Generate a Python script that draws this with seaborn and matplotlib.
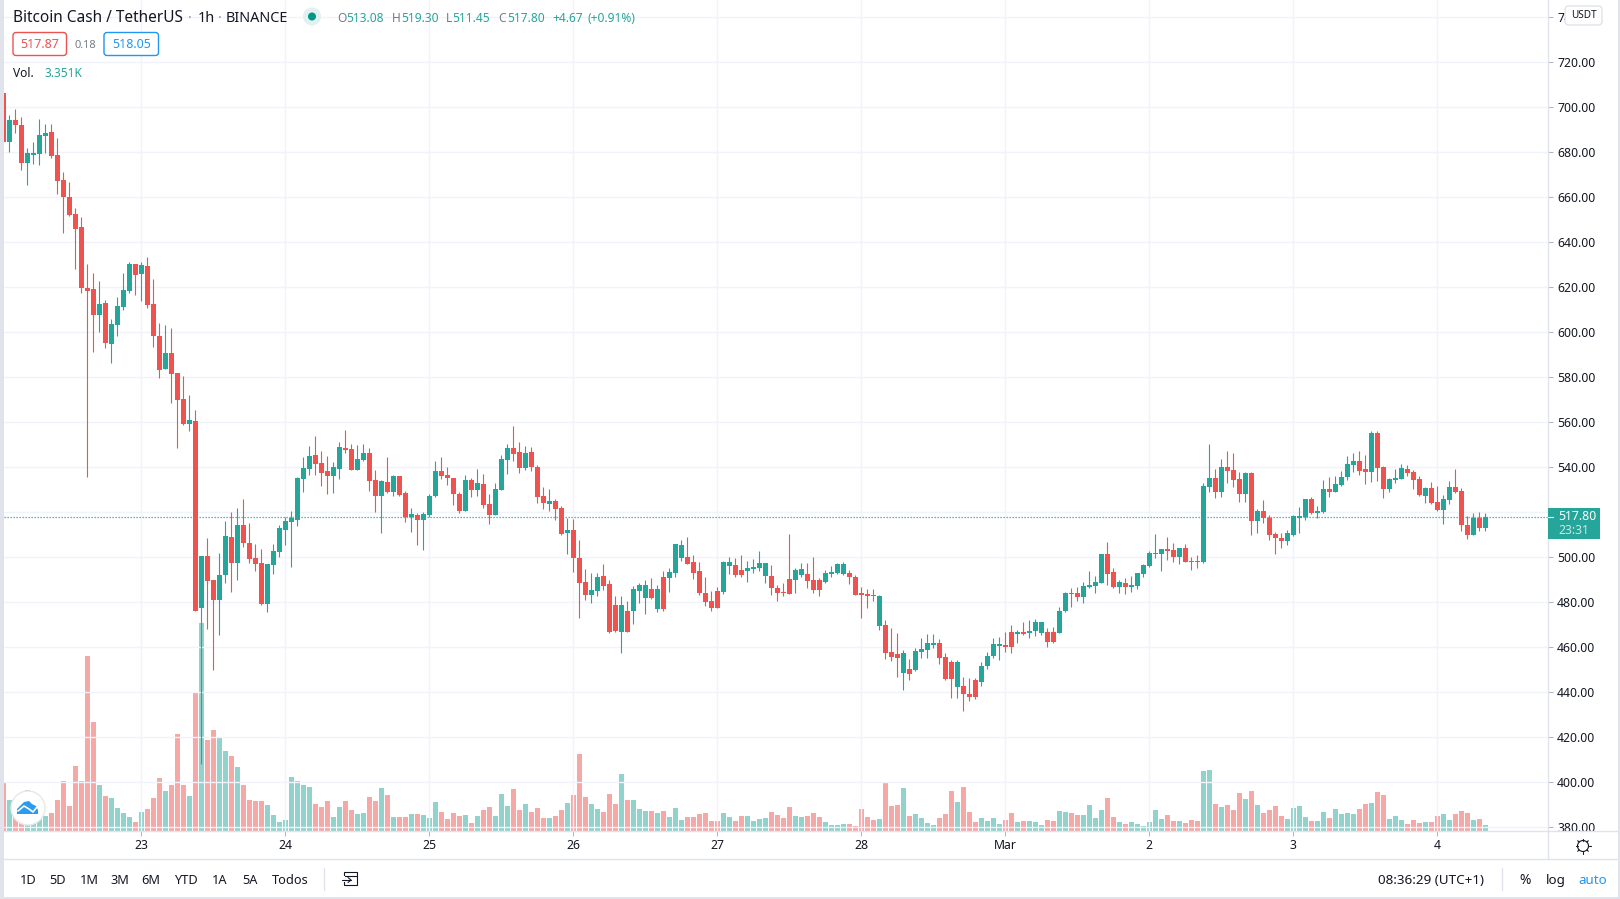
import numpy as np
import pandas as pd
import seaborn as sns
import matplotlib.pyplot as plt
from matplotlib.patches import Rectangle, Circle, FancyBboxPatch, Polygon

# candle colour, r = falling, g = rising
directions = list(
    "rg" "rr" "gggg" "rrrrrrrr" "g" "r" "gggg" "r" "g" "rrr" "g" "rrr" "g" "r" "g" "rr" "gg" "r" "g"
    "rrrr" "gggggggg" "rrr" "gg" "rr" "gg" "rr" "g" "r" "g" "rr" "g" "r" "ggg" "rr"
    "rr" "g" "r" "g" "rr" "ggg" "rr" "g" "rrr" "g" "rr" "g" "rrr" "gg" "rrr" "g" "r" "ggg" "r" "g" "r"
    "ggg" "rrrrrr" "gg" "r"
    "r" "gggg" "rrrr" "gg" "rrr" "gggg" "rrrrr" "g" "rrr" "g" "r" "gggg" "rrr" "g" "rrr" "gggg" "rr" "g" "r"
    "ggg" "rr" "gg" "rr" "gggg" "rr" "g" "r" "gggggg" "rr" "g" "rrr" "gg" "r" "g" "rrr" "g" "r" "g"
    "rrrr" "gggg" "r" "gg" "r" "gggg" "rr" "g" "rr" "ggg" "rrr" "g" "rr" "gg" "rrr" "g" "r" "g"
)

body_top = [
    706.2, 693.9, 693.9, 691.7, 679.3, 679.3, 687.3, 688.1, 688.6, 678.4,
    667.3, 659.7, 652.1, 646.4, 619.3, 618.8, 612.1, 612.6, 603.3, 611.3,
    618.4, 629.9, 629.9, 629.5, 629.0, 612.1, 597.9, 590.4, 590.4, 581.5,
    570.0, 560.6, 560.1, 500.1, 500.1, 489.5, 491.7, 509.0, 508.6, 513.9,
    513.9, 505.9, 499.3, 497.0, 496.6, 502.4, 512.6, 515.7, 517.0, 534.8,
    539.3, 544.6, 545.0, 541.5, 537.9, 539.7, 548.6, 548.1, 547.7, 543.3,
    545.9, 545.9, 533.9, 533.5, 533.0, 535.7, 535.7, 528.1, 518.8, 518.4,
    518.8, 526.8, 537.9, 537.9, 536.1, 534.8, 527.7, 533.9, 533.9, 532.6,
    532.1, 523.3, 529.9, 543.3, 548.1, 548.1, 546.4, 545.9, 546.4, 539.7,
    526.8, 524.6, 524.6, 521.5, 511.7, 511.7, 499.3, 488.6, 485.0, 490.8,
    491.3, 487.7, 478.4, 478.4, 475.7, 485.5, 487.3, 487.3, 485.5, 485.5,
    490.8, 493.0, 505.5, 505.0, 499.7, 497.5, 493.5, 483.7, 480.1, 484.6,
    497.5, 497.5, 496.1, 493.9, 494.8, 495.3, 497.0, 497.0, 491.3, 485.9,
    484.1, 489.9, 493.9, 494.4, 492.1, 489.5, 489.5, 492.6, 493.0, 496.6,
    496.6, 492.6, 490.8, 483.7, 483.3, 482.8, 482.4, 469.5, 457.5, 456.6,
    457.0, 449.9, 457.9, 458.8, 461.5, 461.5, 461.5, 455.3, 453.0, 453.0,
    442.4, 438.8, 445.0, 451.3, 455.7, 461.0, 461.0, 460.6, 466.4, 466.4,
    466.4, 466.8, 470.8, 470.8, 466.4, 466.4, 475.7, 483.7, 483.7, 483.7,
    486.8, 487.3, 488.6, 501.0, 501.0, 493.0, 488.6, 488.1, 487.3, 492.6,
    496.1, 501.5, 501.5, 503.3, 503.3, 502.8, 503.7, 503.7, 497.9, 497.9,
    531.3, 534.8, 534.8, 539.7, 539.7, 538.4, 534.4, 537.0, 537.0, 520.1,
    520.1, 517.0, 509.9, 508.1, 510.4, 517.9, 517.9, 525.5, 525.5, 520.1,
    529.9, 529.9, 532.1, 535.3, 541.0, 542.4, 542.4, 538.8, 554.8, 554.8,
    539.7, 534.4, 534.8, 539.3, 538.8, 537.5, 534.4, 530.4, 530.4, 524.1,
    525.5, 530.8, 530.8, 529.0, 513.9, 517.0, 517.0, 517.8,
]
body_bottom = [
    684.3, 684.3, 691.7, 675.0, 675.0, 678.4, 678.8, 686.8, 677.9, 666.8,
    659.7, 651.7, 645.5, 619.3, 617.9, 607.3, 607.3, 594.8, 594.4, 602.8,
    610.8, 617.9, 625.0, 625.5, 611.7, 597.9, 582.8, 583.3, 581.0, 569.5,
    558.8, 558.8, 475.7, 477.0, 489.0, 480.6, 480.6, 491.7, 497.0, 497.0,
    505.9, 498.8, 496.6, 478.8, 478.8, 496.1, 501.9, 511.7, 515.3, 516.1,
    534.4, 538.8, 541.0, 537.0, 535.7, 535.7, 538.8, 547.3, 538.4, 538.4,
    542.8, 533.5, 526.8, 526.8, 528.6, 528.6, 527.3, 517.6, 517.5, 516.1,
    516.1, 518.4, 526.8, 535.7, 534.8, 527.7, 520.1, 520.1, 529.5, 529.5,
    522.8, 518.4, 518.4, 529.5, 542.8, 545.5, 539.3, 539.3, 539.7, 526.4,
    523.7, 523.3, 521.0, 509.9, 510.4, 499.3, 488.1, 482.8, 482.8, 484.6,
    486.8, 466.4, 466.8, 466.4, 466.4, 475.7, 484.6, 481.5, 481.5, 476.6,
    476.6, 490.4, 492.6, 499.3, 496.6, 492.6, 483.7, 479.7, 477.0, 477.0,
    484.1, 495.7, 491.7, 491.7, 493.5, 494.4, 494.8, 491.3, 485.9, 483.7,
    483.7, 483.3, 489.5, 491.7, 489.0, 485.0, 485.0, 488.6, 492.1, 492.6,
    492.1, 490.8, 482.8, 482.8, 482.4, 482.4, 469.0, 457.0, 455.3, 454.8,
    448.1, 447.7, 449.5, 457.5, 458.4, 460.6, 454.8, 445.5, 445.5, 441.9,
    438.8, 437.5, 437.5, 444.1, 451.3, 455.7, 460.1, 459.7, 459.7, 465.5,
    465.5, 465.9, 466.8, 465.9, 461.9, 461.9, 465.9, 475.7, 483.3, 481.9,
    481.9, 486.4, 486.8, 488.1, 492.1, 486.4, 486.4, 486.4, 486.4, 486.8,
    492.1, 495.7, 501.0, 501.0, 502.4, 499.7, 499.7, 497.5, 497.5, 497.5,
    497.5, 530.8, 528.6, 528.6, 537.9, 533.9, 527.7, 527.7, 515.7, 515.7,
    517.0, 509.5, 508.1, 506.8, 506.8, 509.5, 517.0, 517.5, 519.3, 519.3,
    519.7, 528.6, 528.6, 531.7, 535.3, 540.6, 537.9, 537.5, 537.5, 539.3,
    529.9, 529.9, 533.9, 534.4, 537.0, 533.9, 527.3, 526.8, 523.7, 520.6,
    520.6, 525.0, 528.6, 513.9, 509.5, 509.5, 512.6, 512.6,
]
wick_high = [
    706.2, 696.1, 698.8, 695.3, 681.5, 684.1, 694.4, 692.1, 692.1, 685.9,
    670.8, 666.4, 654.8, 650.8, 629.9, 625.9, 622.4, 613.9, 605.5, 615.3,
    625.9, 630.8, 629.9, 630.8, 633.0, 623.3, 603.7, 602.8, 601.5, 581.5,
    580.1, 571.7, 565.0, 500.1, 508.1, 489.5, 501.5, 515.7, 519.7, 521.5,
    525.5, 514.8, 505.5, 503.3, 496.6, 505.5, 513.9, 517.5, 520.1, 535.3,
    544.1, 549.0, 553.5, 546.8, 544.6, 541.9, 550.8, 556.1, 549.9, 549.5,
    549.9, 548.1, 538.4, 533.9, 544.1, 536.1, 535.7, 529.0, 521.5, 519.3,
    519.7, 527.7, 542.4, 544.1, 539.7, 534.8, 528.6, 536.1, 534.8, 538.8,
    536.6, 527.7, 532.6, 545.0, 549.9, 557.9, 550.8, 549.0, 548.6, 540.6,
    530.8, 529.9, 525.5, 522.4, 517.0, 516.6, 507.3, 494.4, 492.6, 492.6,
    496.6, 489.5, 482.4, 482.4, 480.1, 486.8, 488.1, 489.5, 490.4, 487.3,
    493.5, 494.8, 505.5, 507.3, 508.6, 500.6, 497.5, 490.8, 484.6, 486.4,
    497.9, 499.7, 499.3, 500.6, 497.9, 498.8, 502.4, 497.0, 496.1, 487.3,
    488.1, 509.9, 494.8, 497.0, 497.0, 499.7, 490.4, 493.9, 495.7, 497.0,
    497.5, 493.9, 491.7, 486.4, 485.5, 485.5, 482.8, 471.7, 468.1, 465.9,
    458.4, 454.4, 459.3, 463.7, 465.5, 465.5, 463.3, 457.0, 453.9, 453.9,
    446.4, 445.9, 445.9, 453.0, 457.5, 463.7, 464.1, 466.4, 469.5, 467.3,
    470.8, 471.7, 472.1, 470.8, 468.1, 468.6, 477.5, 484.1, 485.9, 486.4,
    488.6, 493.5, 491.3, 501.0, 506.4, 494.8, 489.5, 490.4, 491.3, 492.6,
    496.6, 502.4, 509.9, 503.3, 508.6, 505.9, 503.7, 505.5, 499.7, 500.6,
    532.6, 549.9, 538.8, 543.3, 546.8, 545.9, 537.5, 537.5, 537.5, 521.0,
    525.0, 518.4, 510.8, 510.4, 511.7, 518.4, 521.9, 525.5, 526.4, 522.4,
    533.9, 535.3, 535.7, 537.9, 544.6, 545.9, 546.8, 545.0, 555.7, 555.7,
    540.1, 534.8, 538.8, 541.0, 540.6, 538.4, 535.7, 530.8, 533.0, 531.3,
    527.3, 533.5, 538.8, 530.4, 517.9, 519.3, 519.7, 519.3,
]
wick_low = [
    684.3, 679.9, 688.1, 671.9, 665.0, 674.4, 673.9, 679.3, 677.0, 661.0,
    643.7, 651.3, 627.7, 617.0, 535.3, 590.8, 599.7, 592.6, 585.9, 597.9,
    609.5, 617.0, 616.1, 613.5, 610.4, 593.0, 579.3, 583.3, 568.1, 548.1,
    558.4, 555.7, 475.7, 407.7, 467.7, 449.5, 465.0, 488.1, 484.1, 489.5,
    504.1, 497.0, 493.5, 478.4, 475.3, 492.1, 499.7, 505.0, 495.3, 513.5,
    528.6, 536.1, 536.1, 531.3, 527.7, 528.1, 534.4, 545.9, 538.4, 538.4,
    542.4, 529.0, 519.7, 510.4, 528.1, 526.8, 526.8, 515.3, 510.8, 505.0,
    502.8, 517.5, 526.4, 534.4, 531.7, 522.8, 519.3, 520.1, 526.4, 526.8,
    521.5, 514.4, 518.4, 529.5, 536.6, 542.4, 537.0, 538.4, 537.9, 523.7,
    521.0, 520.1, 516.1, 509.5, 501.0, 493.0, 472.6, 480.6, 479.3, 482.4,
    485.0, 465.9, 466.4, 457.0, 466.4, 469.9, 479.3, 474.4, 481.0, 475.3,
    475.7, 484.1, 490.8, 497.9, 496.6, 489.9, 482.8, 477.9, 475.7, 477.0,
    483.3, 492.1, 490.8, 490.8, 488.6, 492.6, 493.5, 488.1, 482.8, 480.1,
    482.4, 483.3, 483.7, 490.8, 485.9, 483.7, 482.4, 488.1, 490.8, 492.1,
    491.7, 487.7, 482.8, 472.6, 477.0, 480.1, 467.3, 454.4, 453.5, 446.4,
    440.6, 445.0, 449.0, 454.8, 454.8, 459.3, 452.1, 445.0, 437.0, 437.0,
    431.3, 435.7, 436.6, 442.4, 449.9, 454.8, 453.9, 457.5, 457.0, 461.5,
    465.0, 463.7, 464.6, 465.0, 459.7, 461.5, 465.9, 475.3, 477.5, 480.1,
    479.3, 485.9, 483.7, 488.1, 487.3, 485.9, 483.7, 483.3, 484.1, 485.5,
    490.8, 495.3, 499.3, 493.5, 498.4, 497.5, 496.6, 497.5, 493.9, 494.8,
    497.0, 528.6, 525.9, 526.4, 532.6, 530.8, 524.1, 524.1, 509.5, 510.4,
    514.8, 507.3, 501.0, 503.7, 505.0, 509.0, 510.4, 516.4, 518.8, 517.0,
    519.3, 526.4, 528.6, 531.3, 533.9, 537.5, 536.1, 532.1, 533.0, 533.5,
    525.9, 528.6, 532.6, 534.4, 535.7, 529.9, 526.8, 523.7, 523.3, 520.1,
    514.4, 523.3, 528.1, 511.3, 507.7, 509.5, 511.3, 511.3,
]
volume_k = [
    26.8, 17.3, 11.7, 11.2, 22.9, 10.1, 8.9, 8.4, 10.1, 17.3,
    27.9, 14.0, 36.3, 27.9, 97.7, 60.9, 25.7, 19.5, 18.4, 12.8,
    10.1, 7.8, 5.0, 10.6, 12.3, 18.4, 29.6, 22.3, 25.7, 54.2,
    25.7, 19.5, 77.6, 116.2, 50.8, 56.4, 51.9, 44.7, 41.9, 35.7,
    25.7, 17.3, 16.8, 16.8, 14.5, 8.9, 5.0, 6.1, 30.2, 27.9,
    25.7, 24.6, 15.1, 13.4, 16.8, 7.8, 13.4, 16.8, 11.7, 9.5,
    10.1, 19.0, 16.8, 24.0, 20.1, 7.8, 7.8,
    7.8, 9.5, 9.5, 8.9, 7.3, 16.2, 10.6, 6.7, 10.1, 8.4,
    8.9, 4.5, 8.4, 11.7, 13.4, 8.4, 20.7, 14.0, 23.5, 11.7,
    15.1, 10.6, 12.8, 7.3, 7.3, 8.4, 11.7, 15.6, 20.1, 43.0,
    19.0, 15.1, 12.3, 10.6, 20.7, 15.1, 31.8, 17.3, 17.3, 12.3,
    11.2, 11.2, 10.1, 11.2, 7.8, 12.8, 6.1, 7.8, 7.8, 9.5,
    10.1, 5.6, 5.6, 10.1, 7.8, 5.6, 8.4, 8.4, 5.6, 6.7,
    7.3, 10.6, 8.9, 7.3, 13.4, 8.4,
    7.8, 8.4, 10.1, 7.8, 5.0, 3.4, 3.4, 3.9, 3.9, 2.8,
    12.3, 7.8, 6.1, 6.7, 27.4, 14.0, 14.5, 24.0, 8.4, 9.5,
    7.3, 4.5, 3.4, 7.3, 9.5, 22.3, 16.2, 24.6, 10.6, 5.0,
    7.3, 5.6, 7.3, 3.9, 6.1, 10.1, 5.0, 5.6, 5.6, 5.0,
    3.4, 6.1, 5.6, 11.2, 10.6, 10.1, 8.9, 8.9, 14.5, 7.3,
    11.7, 18.4, 7.8, 5.0, 3.9, 5.0, 3.9, 2.8, 5.0, 11.7,
    6.7, 8.9, 5.6, 5.6, 4.5, 6.1, 5.6,
    33.5, 34.1, 15.1, 13.4, 14.5, 11.7, 21.2, 17.9, 22.3, 14.5,
    10.1, 11.7, 14.0, 8.4, 6.7, 12.8, 14.0, 7.8, 5.6, 5.6,
    10.6, 7.3, 12.3, 9.5, 10.1, 9.5, 12.3, 15.1, 15.6, 21.8,
    20.1, 6.7, 8.4, 6.1, 3.9, 6.1, 4.5, 5.0, 5.0, 8.4,
    9.5, 6.1, 9.5, 11.2, 10.1, 6.1, 6.7, 3.351,
]
price_ticks = list(range(380, 741, 20))
day_labels = ["23", "24", "25", "26", "27", "28", "Mar", "2", "3", "4"]
day_starts = [23, 47, 71, 95, 119, 143, 167, 191, 215, 239]
last_close = 517.80

RED = "#ef5350"
GREEN = "#26a69a"
INK = "#131722"
LINE = "#e0e3eb"
W, H = 1620, 899

sns.set_theme(style="white")
plt.rcParams["font.family"] = ["Noto Sans", "DejaVu Sans"]

df = pd.DataFrame({
    "idx": np.arange(len(body_top)),
    "top": body_top,
    "bottom": body_bottom,
    "high": wick_high,
    "low": wick_low,
    "vol": volume_k,
    "dir": directions,
})
df["colour"] = df["dir"].map({"r": RED, "g": GREEN})

fig = plt.figure(figsize=(W / 100, H / 100), dpi=100, facecolor="white")
rect = [4 / W, (H - 831) / H, (1548 - 4) / W, 831 / H]
xlims = (0.117, 257.45)

# volume first, candles sit on top of it
ax_vol = fig.add_axes(rect, zorder=1)
sns.barplot(data=df, x="idx", y="vol", hue="dir", palette={"r": RED, "g": GREEN},
            native_scale=True, dodge=False, width=0.92, alpha=0.5, saturation=1,
            linewidth=0, legend=False, ax=ax_vol)
ax_vol.set_xlim(xlims)
ax_vol.set_ylim(0, 464.1)
ax_vol.axis("off")

ax = fig.add_axes(rect, zorder=2, facecolor="none")
ax.grid(True, color="#f0f3fa", lw=1.0)
ax.set_axisbelow(True)
ax.axhline(last_close, color=GREEN, lw=0.9, ls=(0, (1, 1.4)), zorder=1)
ax.vlines(df["idx"], df["low"], df["high"], colors=df["colour"], lw=0.8, zorder=2)
ax.bar(df["idx"], df["top"] - df["bottom"], bottom=df["bottom"], width=0.87,
       color=df["colour"], lw=0, zorder=3)
ax.set_xlim(xlims)
ax.set_ylim(378.06, 747.4)
ax.yaxis.tick_right()
ax.set_yticks(price_ticks)
ax.set_yticklabels([f"{p:.2f}" for p in price_ticks])
ax.set_xticks(day_starts)
ax.set_xticklabels(day_labels)
ax.tick_params(axis="y", length=3.6, width=0.75, color="#b2b5be", labelsize=8.8,
               labelcolor=INK, pad=3, right=True, left=False)
ax.tick_params(axis="x", length=3.6, width=0.75, color="#b2b5be", labelsize=8.8,
               labelcolor=INK, pad=2.5, bottom=True)
for side in ["top", "left"]:
    ax.spines[side].set_visible(False)
for side in ["right", "bottom"]:
    ax.spines[side].set_color(LINE)
    ax.spines[side].set_linewidth(1.0)

# everything around the chart, in pixels of the picture
ui = fig.add_axes([0, 0, 1, 1], zorder=3, facecolor="none")
ui.set_xlim(0, W)
ui.set_ylim(H, 0)
ui.axis("off")


def label(x, y, s, color=INK, size=9.0, ha="left", **kw):
    ui.text(x, y, s, color=color, fontsize=size, ha=ha, va="center", **kw)


def box(x0, y0, x1, y1, edge, face="white", r=3, lw=1.0, z=2):
    ui.add_patch(FancyBboxPatch((x0, y0), x1 - x0, y1 - y0, boxstyle=f"round,pad=0,rounding_size={r}",
                                fc=face, ec=edge, lw=lw, zorder=z))


# frame
ui.add_patch(Rectangle((0, 0), 4, H, fc=LINE, lw=0))
ui.add_patch(Rectangle((0, 897), W, 2, fc=LINE, lw=0))
ui.add_patch(Rectangle((1618, 0), 2, H, fc=LINE, lw=0))
ui.plot([1548, 1618], [831, 831], color=LINE, lw=1.0)
ui.plot([4, 1618], [859, 859], color=LINE, lw=1.0)
ui.plot([1548, 1548], [831, 859], color=LINE, lw=1.0)

# header
label(13, 18, "Bitcoin Cash / TetherUS", size=11.1)
label(190, 18, "·", color="#9598a1", size=10.4, ha="center")
label(198, 18, "1h", size=10.4)
label(220, 18, "·", color="#9598a1", size=10.4, ha="center")
label(226, 18, "BINANCE", size=10.4)
ui.add_patch(Circle((312, 16.5), 9, fc="#e0f2f0", lw=0))
ui.add_patch(Circle((312, 16.5), 4, fc="#009688", lw=0))
for x, s, c in [(337, "O", "#787b86"), (346, "513.08", GREEN), (391.5, "H", "#787b86"), (401, "519.30", GREEN),
                (446, "L", "#787b86"), (452, "511.45", GREEN), (498, "C", "#787b86"), (507, "517.80", GREEN),
                (552, "+4.67", GREEN), (588, "(+0.91%)", GREEN)]:
    label(x, 19, s, color=c, size=8.6)
box(13, 32.5, 66.5, 55.5, RED)
label(39.7, 45, "517.87", color=RED, size=9.0, ha="center")
label(85.5, 45, "0.18", color="#787b86", size=8, ha="center")
box(104, 32.5, 158.5, 55.5, "#2196f3")
label(131.2, 45, "518.05", color="#2196f3", size=9.0, ha="center")
label(13, 73.5, "Vol.", size=8.6)
label(44.5, 73.5, "3.351K", color=GREEN, size=8.6)

# price scale extras
box(1565, 6, 1602, 25, LINE, r=4, z=4)
label(1583.5, 15.5, "USDT", size=7.2, ha="center", zorder=5)
ui.add_patch(Rectangle((1548, 508), 52, 31, fc=GREEN, lw=0, zorder=4))
ui.plot([1548, 1553], [516.5, 516.5], color="white", lw=0.8, zorder=5)
label(1558, 516.8, "517.80", color="white", size=8.8, zorder=5)
label(1558, 531, "23:31", color="#c9e8e4", size=8.8, zorder=5)

# settings gear
ui.add_patch(Circle((1583, 846), 5.5, fc="none", ec=INK, lw=0.8))
for a in np.arange(0, 2 * np.pi, np.pi / 4):
    ui.plot([1583 + 5.5 * np.cos(a), 1583 + 7.5 * np.cos(a)], [846 + 5.5 * np.sin(a), 846 + 7.5 * np.sin(a)],
            color=INK, lw=0.8)

# logo
ui.add_patch(Circle((28, 808), 17, fc="white", ec="#e8e8ea", lw=1.0, zorder=5))
ui.add_patch(Polygon([(17, 814), (17, 809), (21, 805), (24, 802), (29, 801), (32, 804), (36, 806), (38, 810), (38, 814)],
                     closed=True, fc="#2b9bf0", lw=0, zorder=6))
ui.plot([18, 24, 29, 33, 37], [811, 806, 809, 812, 807], color="white", lw=1.2, zorder=7)

# bottom bar
for x, s in [(28, "1D"), (58, "5D"), (89, "1M"), (120, "3M"), (151, "6M"), (186, "YTD"), (220, "1A"), (250, "5A"), (290, "Todos")]:
    label(x, 880.5, s, size=9.2, ha="center")
ui.plot([324, 324], [868, 890], color=LINE, lw=1.0)
ui.add_patch(Rectangle((344, 872), 13, 13, fc="none", ec=INK, lw=0.8))
ui.add_patch(Rectangle((340, 876), 5, 6, fc="white", lw=0, zorder=3))
ui.plot([344, 357], [876, 876], color=INK, lw=0.8)
ui.plot([342, 351], [880, 880], color=INK, lw=0.8, zorder=4)
ui.plot([348, 351, 348], [877.5, 880, 882.5], color=INK, lw=0.8, zorder=4)
label(1431, 880.5, "08:36:29 (UTC+1)", size=9.7, ha="center")
ui.plot([1502, 1502], [868, 890], color=LINE, lw=1.0)
label(1525, 880.5, "%", size=10, ha="center")
label(1556, 880.5, "log", size=9.6, ha="center")
label(1593, 880.5, "auto", color="#2196f3", size=9.6, ha="center")

fig.savefig("out.png", dpi=100)
